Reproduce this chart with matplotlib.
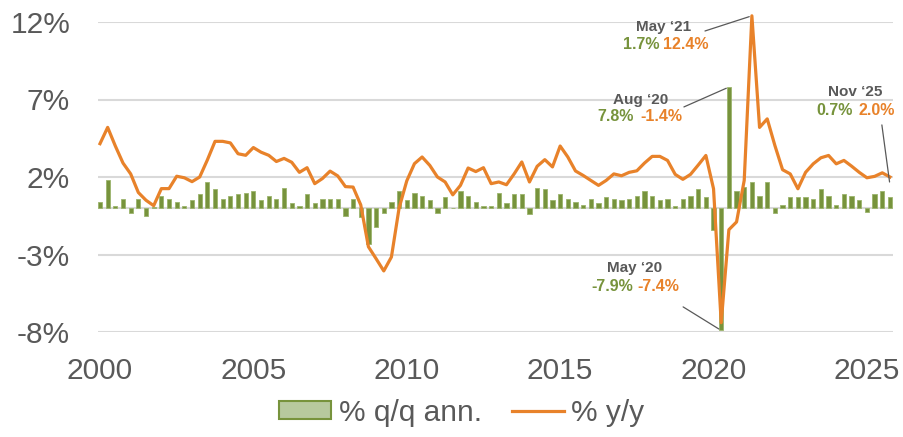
import numpy as np
import matplotlib
matplotlib.use("Agg")
import matplotlib.pyplot as plt
from matplotlib.patches import Patch
from matplotlib.lines import Line2D

plt.rcParams['font.family'] = ['Liberation Sans', 'DejaVu Sans']

# quarterly points, Feb 2000 .. Nov 2025
qq_ann = [0.4, 1.8, 0.1, 0.6, -0.35, 0.6, -0.5, 0.05, 0.8, 0.6,
          0.4, 0.1, 0.5, 0.9, 1.7, 1.2, 0.6, 0.8, 0.9, 1.0,
          1.1, 0.5, 0.8, 0.6, 1.3, 0.3, 0.1, 0.9, 0.3, 0.6,
          0.6, 0.6, -0.5, 0.6, -0.6, -2.3, -1.2, -0.3, 0.4, 1.1,
          0.5, 1.0, 0.8, 0.5, -0.3, 0.7, 0.03, 1.1, 0.8, 0.4,
          0.1, 0.1, 1.0, 0.3, 0.9, 0.9, -0.4, 1.3, 1.2, 0.5,
          0.9, 0.6, 0.4, 0.2, 0.6, 0.3, 0.7, 0.6, 0.5, 0.6,
          0.8, 1.1, 0.8, 0.5, 0.6, 0.1, 0.6, 0.8, 1.2, 0.7,
          -1.4, -7.9, 7.8, 1.1, 1.35, 1.7, 0.8, 1.7, -0.35, 0.2,
          0.7, 0.7, 0.7, 0.6, 1.2, 0.8, 0.2, 0.9, 0.8, 0.5,
          -0.25, 0.9, 1.1, 0.7]
yy = [4.15, 5.2, 4.0, 2.9, 2.2, 1.0, 0.5, 0.15, 1.25, 1.25,
      2.05, 1.95, 1.7, 2.0, 3.1, 4.3, 4.3, 4.2, 3.5, 3.4,
      3.9, 3.6, 3.4, 3.0, 3.2, 2.95, 2.3, 2.6, 1.57, 1.9,
      2.38, 2.07, 1.38, 1.35, 0.2, -2.5, -3.27, -4.06, -3.16, 0.0,
      1.75, 2.86, 3.29, 2.75, 2.0, 1.68, 0.85, 1.46, 2.58, 2.35,
      2.6, 1.57, 1.68, 1.5, 2.2, 2.97, 1.68, 2.69, 3.12, 2.65,
      4.0, 3.29, 2.39, 2.1, 1.78, 1.46, 1.78, 2.2, 2.08, 2.3,
      2.4, 2.9, 3.33, 3.33, 3.07, 2.17, 1.85, 2.17, 2.77, 3.39,
      1.24, -7.4, -1.4, -0.9, 1.78, 12.4, 5.2, 5.75, 4.03, 2.47,
      2.2, 1.24, 2.3, 2.85, 3.24, 3.39, 2.85, 3.07, 2.7, 2.3,
      1.95, 2.04, 2.27, 2.0]
years = ['2000', '2005', '2010', '2015', '2020', '2025']
y_ticks = [-8, -3, 2, 7, 12]

green = '#77933c'
orange = '#e8822a'
gray = '#595959'
grid = '#d9d9d9'

x = np.arange(len(yy))

fig = plt.figure(figsize=(9.04, 4.37), dpi=100)
ax = fig.add_axes([98/904, 1-332/437, 795/904, 310/437])

for t in y_ticks:
    ax.axhline(t, color=grid, lw=1.5, zorder=0)
ax.axhline(0, color=grid, lw=1.5, zorder=0)

ax.bar(x, qq_ann, width=0.55, color=green, edgecolor='#9cb46c', linewidth=0.6, zorder=2)
ax.plot(x, yy, color=orange, lw=2.3, zorder=3, clip_on=False, solid_joinstyle='round')

ax.set_xlim(-0.26, 103.4)
ax.set_ylim(-8, 12)
ax.set_yticks(y_ticks)
ax.set_yticklabels(['%d%%' % t for t in y_ticks])
ax.set_xticks(np.arange(0, len(yy), 20))
ax.set_xticklabels(years)
ax.tick_params(axis='y', length=0, pad=20, labelsize=21.5, labelcolor=gray)
ax.tick_params(axis='x', length=0, pad=18, labelsize=21.5, labelcolor=gray)
for s in ax.spines.values():
    s.set_visible(False)

# callouts
def callout(idx, val, start):
    ax.annotate('', xy=(idx, val), xycoords='data', xytext=start, textcoords='axes fraction',
                arrowprops=dict(arrowstyle='-', color=gray, lw=0.9, shrinkA=0, shrinkB=2),
                annotation_clip=False)

def label(title, tpos, v1, v2, vy, split):
    ax.text(tpos[0], tpos[1], title, transform=ax.transAxes, ha='center', va='center',
            fontsize=11, fontweight='bold', color=gray)
    ax.text(split[0], vy, v1, transform=ax.transAxes, ha='right', va='center',
            fontsize=11.5, fontweight='bold', color=green)
    ax.text(split[1], vy, v2, transform=ax.transAxes, ha='left', va='center',
            fontsize=11.5, fontweight='bold', color=orange)

i21, i20a, i20b, i25 = 85, 82, 81, 103
label('May \u201821', (0.712, 0.984), '%.1f%%' % qq_ann[i21], '%.1f%%' % yy[i21], 0.926, (0.7057, 0.7107))
callout(i21, yy[i21], (0.7635, 0.971))
label('Aug \u201820', (0.682, 0.748), '%.1f%%' % qq_ann[i20a], '%.1f%%' % yy[i20a], 0.694, (0.674, 0.682))
callout(i20a, qq_ann[i20a], (0.737, 0.726))
label('May \u201820', (0.675, 0.206), '%.1f%%' % qq_ann[i20b], '%.1f%%' % yy[i20b], 0.148, (0.673, 0.679))
callout(i20b, qq_ann[i20b], (0.736, 0.081))
label('Nov \u201825', (0.952, 0.774), '%.1f%%' % qq_ann[i25], '%.1f%%' % yy[i25], 0.713, (0.950, 0.956))
callout(i25, yy[i25] - 0.5, (0.986, 0.668))

handles = [Patch(facecolor='#b7c99e', edgecolor=green, linewidth=1.5),
           Line2D([0], [0], color=orange, lw=2.3)]
fig.legend(handles, ['% q/q ann.', '% y/y'], loc='center', bbox_to_anchor=(0.511, 0.055),
           ncol=2, frameon=False, fontsize=21.5, labelcolor=gray, handlelength=1.74,
           handleheight=0.55, handletextpad=0.25, columnspacing=1.0, borderpad=0)

fig.savefig('out.png', dpi=100)
